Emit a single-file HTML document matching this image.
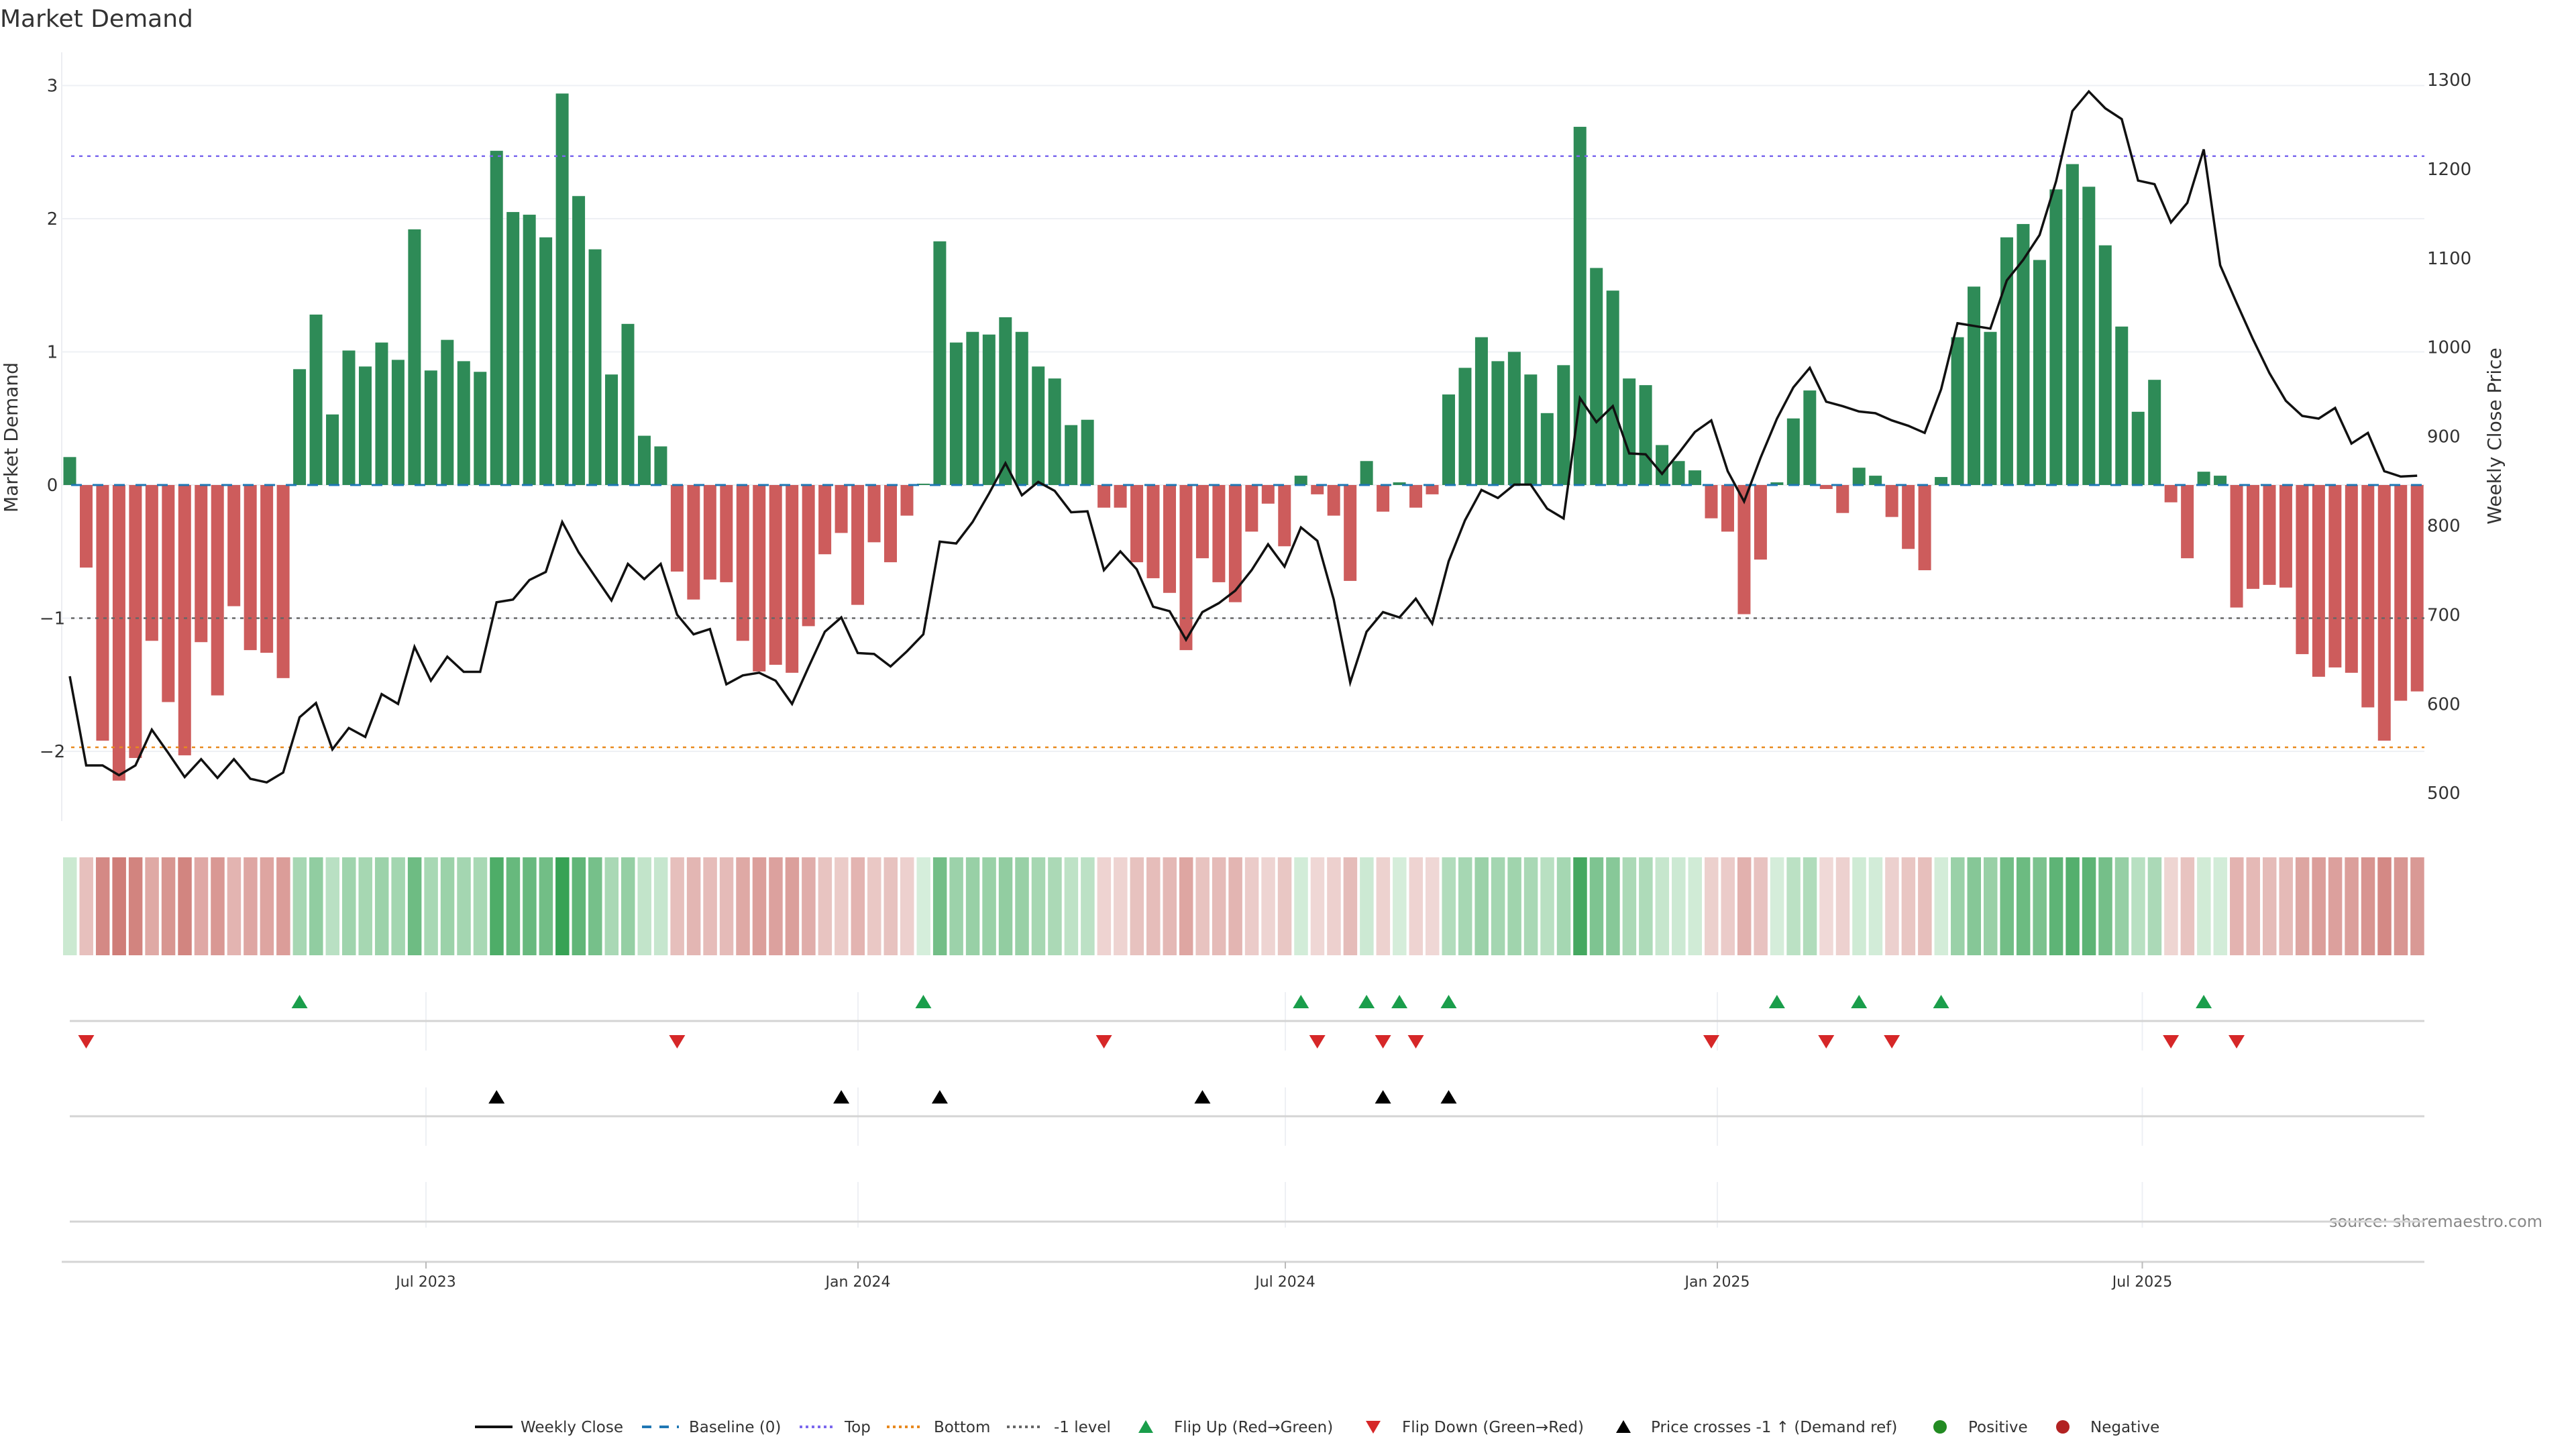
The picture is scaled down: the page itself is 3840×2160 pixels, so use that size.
<!DOCTYPE html>
<html><head><meta charset="utf-8">
<style>
html,body{margin:0;padding:0;background:#fff;}
svg{display:block;font-family:"DejaVu Sans","Liberation Sans",sans-serif;}
</style></head>
<body>
<svg id="chart" width="3840" height="2160" viewBox="0 0 3840 2160" xmlns="http://www.w3.org/2000/svg">
<text x="0" y="40" font-size="36" fill="#333">Market Demand</text>
<text transform="translate(26,652) rotate(-90)" text-anchor="middle" font-size="28" fill="#333">Market Demand</text>
<text transform="translate(3728,650) rotate(-90)" text-anchor="middle" font-size="28" fill="#333">Weekly Close Price</text>
<text x="3472" y="1829" font-size="24" textLength="318" lengthAdjust="spacingAndGlyphs" fill="#888">source: sharemaestro.com</text>
<g id="layer"></g>
</svg>
<script>
// ---- data ----
const demandValues = [0.21,-0.62,-1.92,-2.22,-2.05,-1.17,-1.63,-2.03,-1.18,-1.58,-0.91,-1.24,-1.26,-1.45,
0.87,1.28,0.53,1.01,0.89,1.07,0.94,1.92,0.86,1.09,0.93,0.85,2.51,2.05,2.03,1.86,2.94,2.17,1.77,0.83,1.21,0.37,0.29,
-0.65,-0.86,-0.71,-0.73,-1.17,-1.40,-1.35,-1.41,-1.06,-0.52,-0.36,-0.90,-0.43,-0.58,-0.23,0.01,
1.83,1.07,1.15,1.13,1.26,1.15,0.89,0.80,0.45,0.49,
-0.17,-0.17,-0.58,-0.70,-0.81,-1.24,-0.55,-0.73,-0.88,-0.35,-0.14,-0.46,0.07,-0.07,-0.23,-0.72,0.18,-0.20,0.02,-0.17,-0.07,
0.68,0.88,1.11,0.93,1.00,0.83,0.54,0.90,2.69,1.63,1.46,0.80,0.75,0.30,0.18,0.11,
-0.25,-0.35,-0.97,-0.56,0.02,0.50,0.71,-0.03,-0.21,0.13,0.07,-0.24,-0.48,-0.64,0.06,
1.11,1.49,1.15,1.86,1.96,1.69,2.22,2.41,2.24,1.80,1.19,0.55,0.79,-0.13,-0.55,0.10,0.07,
-0.92,-0.78,-0.75,-0.77,-1.27,-1.44,-1.37,-1.41,-1.67,-1.92,-1.62,-1.55];
const priceValues = [631,531,531,520,531,571,545,518,538,517,538,516,512,523,585,601,549,573,563,611,600,664,626,653,636,636,714,717,739,748,804,770,743,716,757,740,757,
700,678,684,622,632,635,626,600,641,681,697,657,656,642,659,678,782,780,804,836,870,834,849,839,815,816,750,771,751,709,704,672,703,713,727,
750,779,754,798,783,717,624,681,703,697,718,690,760,806,840,831,846,846,819,808,943,916,934,881,880,858,881,905,918,861,827,876,920,955,977,939,
934,928,926,918,912,904,953,1027,1024,1021,1075,1098,1126,1186,1265,1287,1268,1256,1187,1183,1140,1162,1222,1092,1050,1009,971,940,923,920,932,892,904,861,855,856];
const priceCrossIdx = [26,47,53,69,80,84];
const leftTicks = [-2,-1,0,1,2,3];
const rightTicks = [500,600,700,800,900,1000,1100,1200,1300];
const dateTickLabels = ["Jul 2023","Jan 2024","Jul 2024","Jan 2025","Jul 2025"];
const dateTickDays = [0,184,366,550,731];
const topLevel = 2.47, bottomLevel = -1.97, minusOneLevel = -1;

// ---- scales ----
const X0 = 104, STEP = 24.47;
const xi = i => X0 + STEP*i;
const xd = d => 635 + d*3.5;
const yL = v => 723 - v*198.5;
const yR = p => 119 + (1300-p)*1.329;
const PL = 92, PR = 3614;

const NS = "http://www.w3.org/2000/svg";
const layer = document.getElementById('layer');
function mk(tag, attrs, parent){
  const e = document.createElementNS(NS, tag);
  for (const k in attrs) e.setAttribute(k, attrs[k]);
  (parent||layer).appendChild(e);
  return e;
}

// main plot grid + axis
const la = mk('line',{x1:PL,y1:78,x2:PL,y2:1224,stroke:'#eceef2','stroke-width':2});


leftTicks.forEach(t=>{
  const g = mk('line',{x1:PL,y1:yL(t),x2:PR,y2:yL(t),stroke:'#eef0f4','stroke-width':2});
  
  
  const tx = mk('text',{x:78,y:yL(t)+9,'text-anchor':'middle','font-size':26,fill:'#333'});
  tx.textContent = t<0 ? '\u2212'+Math.abs(t) : String(t);
  
  
});
rightTicks.forEach(t=>{
  const tx = mk('text',{x:3618,y:yR(t)+9,'font-size':26,fill:'#333'});
  tx.textContent = String(t);
  
  
});

// bars
demandValues.forEach((v,i)=>{
  const y = Math.min(yL(v), yL(0)), h = Math.abs(yL(v)-yL(0));
  const r = mk('rect',{x:xi(i)-9.5,y:y,width:19,height:Math.max(h,0.5),fill:v>=0?'#2e8b57':'#cd5c5c'});
  
  
});

// reference lines
function hline(v, color, dash, name, w){
  const l = mk('line',{x1:PL+14,y1:yL(v),x2:PR,y2:yL(v),stroke:color,'stroke-width':w||2.5,'stroke-dasharray':dash});
  
  
}
hline(topLevel,'#7b68ee','5 7','top-line');
hline(bottomLevel,'#e8891e','5 7','bottom-line');
hline(minusOneLevel,'#666','5 7','minus-one-line');
hline(0,'#1f77b4','16 16','baseline-zero',3);

// price line
const pts = priceValues.map((p,i)=>xi(i).toFixed(1)+','+yR(p).toFixed(1)).join(' ');
const pl = mk('polyline',{points:pts,fill:'none',stroke:'#111','stroke-width':3.5,'stroke-linejoin':'miter'});



// heatmap strip
function heatColor(v){
  const t = Math.min(Math.abs(v)/3,1);
  const a = v>=0 ? [214,238,219] : [240,218,216];
  const b = v>=0 ? [52,160,82] : [196,92,86];
  const c = a.map((x,k)=>Math.round(x+(b[k]-x)*t));
  return 'rgb('+c.join(',')+')';
}
demandValues.forEach((v,i)=>{
  const r = mk('rect',{x:xi(i)-10,y:1278,width:20.5,height:146,fill:heatColor(v)});
  
  
});

// marker rows: grids
const rows = [[1479,1566,1522],[1621,1708,1664],[1762,1830,1821]];
rows.forEach(rw=>{
  dateTickDays.forEach(d=>{
    const v = mk('line',{x1:xd(d),y1:rw[0],x2:xd(d),y2:rw[1],stroke:'#eef0f4','stroke-width':2});
    
    
  });
  const h = mk('line',{x1:104,y1:rw[2],x2:PR,y2:rw[2],stroke:'#d4d4d4','stroke-width':3});
  
  
});

// flips
function tri(x,y,up,color,name){
  const p = up ? `${x-12},${y+9} ${x+12},${y+9} ${x},${y-11}` : `${x-12},${y-9} ${x+12},${y-9} ${x},${y+11}`;
  const t = mk('polygon',{points:p,fill:color});
  
  
}
for(let i=1;i<demandValues.length;i++){
  const a = demandValues[i-1], b = demandValues[i];
  if(a<0 && b>=0) tri(xi(i),1494,true,'#1a9e4b','flip-up-marker');
  if(a>=0 && b<0) tri(xi(i),1552,false,'#d62728','flip-down-marker');
}
if(demandValues[0]<0) tri(xi(0),1552,false,'#d62728','flip-down-marker');
priceCrossIdx.forEach(i=>tri(xi(i),1636,true,'#000','price-cross-marker'));

// x axis
const xa = mk('line',{x1:PL,y1:1881,x2:PR,y2:1881,stroke:'#d4d4d4','stroke-width':3});


dateTickDays.forEach((d,k)=>{
  const tk = mk('line',{x1:xd(d),y1:1881,x2:xd(d),y2:1891,stroke:'#bbb','stroke-width':2});
  
  
  const tx = mk('text',{x:xd(d),y:1918,'text-anchor':'middle','font-size':22,fill:'#333'});
  tx.textContent = dateTickLabels[k];
  
  
});

// legend
const LY = 2127;
const lg = mk('g',{});


function ltext(x,s){ const t=mk('text',{x:x,y:LY+8,'font-size':23,fill:'#333'},lg); t.textContent=s;
  
   }
function lline(x1,x2,color,dash,w){ const l=mk('line',{x1:x1,y1:LY,x2:x2,y2:LY,stroke:color,'stroke-width':w,'stroke-dasharray':dash||'none'},lg);
  
   }
lline(708,764,'#111',null,4); ltext(776,'Weekly Close');
lline(957,1012,'#1f77b4','14 12',4); ltext(1027,'Baseline (0)');
lline(1192,1244,'#7b68ee','4 5',4); ltext(1259,'Top');
lline(1322,1375,'#e8891e','4 5',4); ltext(1392,'Bottom');
lline(1501,1554,'#666','4 5',4); ltext(1571,'-1 level');
function ltri(x,up,color){ const p = up?`${x-11},${LY+9} ${x+11},${LY+9} ${x},${LY-10}`:`${x-11},${LY-9} ${x+11},${LY-9} ${x},${LY+10}`;
  const t=mk('polygon',{points:p,fill:color},lg);
  
   }
ltri(1708,true,'#1a9e4b'); ltext(1750,'Flip Up (Red\u2192Green)');
ltri(2047,false,'#d62728'); ltext(2090,'Flip Down (Green\u2192Red)');
ltri(2420,true,'#000'); ltext(2461,'Price crosses -1 \u2191 (Demand ref)');
const c1=mk('circle',{cx:2892,cy:LY,r:10,fill:'#228b22'},lg);


ltext(2934,'Positive');
const c2=mk('circle',{cx:3075,cy:LY,r:10,fill:'#b22222'},lg);


ltext(3116,'Negative');
</script>
</body></html>
